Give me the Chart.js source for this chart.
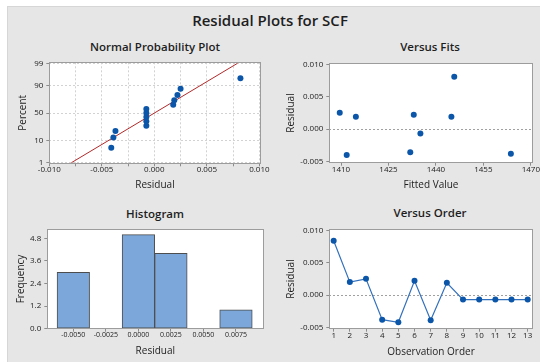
<!DOCTYPE html>
<html>
<head>
<meta charset="utf-8">
<title>Residual Plots for SCF</title>
<script src="https://cdn.jsdelivr.net/npm/chart.js@4.4.0/dist/chart.umd.min.js"></script>
<style>
  body { margin: 0; background: #fff; font-family: 'Open Sans', sans-serif; }
  #page { position: relative; width: 540px; height: 362px; overflow: hidden; }
  #panel { position: absolute; left: 7px; top: 6px; right: 0; bottom: 0; background: #e6e6e6; border-top: 1px solid #d6d6d6; border-left: 1px solid #d6d6d6; }
  .title { position: absolute; text-align: center; color: #1e1e1e; font-weight: 600; white-space: nowrap; }
  canvas { position: absolute; }
</style>
</head>
<body>
<div id="page">
  <div id="panel"></div>
  <div class="title" style="left:0;width:540px;top:11px;font-size:15px;line-height:18px">Residual Plots for SCF</div>
  <div class="title" style="left:55px;width:200px;top:39px;font-size:11.5px;line-height:16px">Normal Probability Plot</div>
  <div class="title" style="left:330px;width:200px;top:39px;font-size:11.5px;line-height:16px">Versus Fits</div>
  <div class="title" style="left:55px;width:200px;top:206px;font-size:11.5px;line-height:16px">Histogram</div>
  <div class="title" style="left:330px;width:200px;top:205px;font-size:11.5px;line-height:16px">Versus Order</div>
  <canvas id="npp" width="270" height="144" style="left:0;top:56px"></canvas>
  <canvas id="fits" width="270" height="144" style="left:270px;top:56px"></canvas>
  <canvas id="hist" width="270" height="140" style="left:0;top:222px"></canvas>
  <canvas id="order" width="270" height="140" style="left:270px;top:222px"></canvas>
</div>
<script>
// 1. DATA

// normal probability plot: sorted residuals and their plotting percents
const npResid = [-0.0041, -0.0039, -0.0037, -0.00076, -0.00076, -0.00076, -0.00076, -0.00076, 0.0018, 0.0019, 0.0022, 0.0025, 0.0082];
const npPct = [5.2, 12.7, 20.1, 27.6, 35.1, 42.5, 50, 57.5, 64.9, 72.4, 79.9, 87.3, 94.8];
const npPctTicks = [1, 10, 50, 90, 99];
const npXTicks = [-0.01, -0.0075, -0.005, -0.0025, 0, 0.0025, 0.005, 0.0075, 0.01];
const npFitMean = 0.00001;
const npFitSd = 0.0034;
const npFitPct = [1, 99];

// versus fits
const fitsX = [1409.6, 1411.8, 1414.7, 1431.9, 1433.0, 1435.1, 1444.9, 1445.8, 1463.7];
const fitsResid = [0.0025, -0.0040, 0.0019, -0.0036, 0.0022, -0.0007, 0.0019, 0.0081, -0.0038];
const fitsXTicks = [1410, 1425, 1440, 1455, 1470];
const residTicks = [-0.005, 0, 0.005, 0.01];

// histogram
const histBins = [-0.005, 0, 0.0025, 0.0075];
const histCounts = [3, 5, 4, 1];
const histXTicks = [-0.005, -0.0025, 0, 0.0025, 0.005, 0.0075];
const histYTicks = [0, 1.2, 2.4, 3.6, 4.8];

// versus order
const orderObs = [1, 2, 3, 4, 5, 6, 7, 8, 9, 10, 11, 12, 13];
const orderResid = [0.0084, 0.0020, 0.0025, -0.0038, -0.0042, 0.0022, -0.0039, 0.0019, -0.0007, -0.0007, -0.0007, -0.0007, -0.0007];

// 2. STYLE
const POINT = '#0b56a9';
const TICK_TXT = '#222';
const TICK_MARK = '#8c8c8c';
const BOX = '#9c9c9c';

Chart.defaults.font.family = "'Open Sans', sans-serif";
Chart.defaults.color = TICK_TXT;
Chart.defaults.animation = false;

// inverse standard normal (Acklam) - used for the probability axis
function probit(p) {
    const a = [-39.69683028665376, 220.9460984245205, -275.9285104469687, 138.3577518672690, -30.66479806614716, 2.506628277459239];
    const b = [-54.47609879822406, 161.5858368580409, -155.6989798598866, 66.80131188771972, -13.28068155288572];
    const c = [-0.007784894002430293, -0.3223964580411365, -2.400758277161838, -2.549732539343734, 4.374664141464968, 2.938163982698783];
    const d = [0.007784695709041462, 0.3224671290700398, 2.445134137142996, 3.754408661907416];
    const pl = 0.02425;
    let q, r;
    if (p < pl) {
        q = Math.sqrt(-2 * Math.log(p));
        return (((((c[0]*q+c[1])*q+c[2])*q+c[3])*q+c[4])*q+c[5]) / ((((d[0]*q+d[1])*q+d[2])*q+d[3])*q+1);
    }
    if (p > 1 - pl) {
        q = Math.sqrt(-2 * Math.log(1 - p));
        return -(((((c[0]*q+c[1])*q+c[2])*q+c[3])*q+c[4])*q+c[5]) / ((((d[0]*q+d[1])*q+d[2])*q+d[3])*q+1);
    }
    q = p - 0.5; r = q * q;
    return (((((a[0]*r+a[1])*r+a[2])*r+a[3])*r+a[4])*r+a[5])*q / (((((b[0]*r+b[1])*r+b[2])*r+b[3])*r+b[4])*r+1);
}

// white plot area + full grey frame, like the Minitab panels
const plotBox = {
    id: 'plotBox',
    beforeDraw(chart) {
        const a = chart.chartArea, ctx = chart.ctx;
        ctx.save();
        ctx.fillStyle = '#fff';
        ctx.fillRect(a.left, a.top, a.right - a.left, a.bottom - a.top);
        ctx.restore();
    },
    afterDraw(chart) {
        const a = chart.chartArea, ctx = chart.ctx;
        ctx.save();
        ctx.strokeStyle = BOX;
        ctx.lineWidth = 1;
        ctx.strokeRect(Math.round(a.left) + 0.5, Math.round(a.top) + 0.5, Math.round(a.right - a.left), Math.round(a.bottom - a.top));
        ctx.restore();
    }
};

// fix axis thickness so every plot box lands where the reference has it
function fixSize(size) {
    return function (scale) {
        if (scale.isHorizontal()) scale.height = size; else scale.width = size;
        scale.paddingLeft = scale.paddingRight = scale.paddingTop = scale.paddingBottom = 0;
    };
}

function setTicks(values) {
    return function (scale) { scale.ticks = values.map(v => ({ value: v })); };
}

function axisTitle(text, pad) {
    return { display: true, text: text, color: '#1e1e1e', font: { size: 10 }, padding: { top: pad, bottom: pad } };
}

function baseScale(extra) {
    return Object.assign({
        type: 'linear',
        border: { display: false },
        grid: { drawOnChartArea: false, tickLength: 3, tickColor: TICK_MARK },
        ticks: { font: { size: 8 }, padding: 2, autoSkip: false, maxRotation: 0, callback: v => String(v) }
    }, extra);
}

// x axes sit a little tighter under the box than the default
function xTicks(size, callback) {
    return { font: { size: size }, padding: -1, autoSkip: false, maxRotation: 0, callback: callback || (v => String(v)) };
}

// dotted reference line at residual = 0, no other grid
function zeroLineScale(extra) {
    const s = baseScale(extra);
    s.grid = {
        drawOnChartArea: true, tickLength: 3, tickColor: TICK_MARK,
        color: ctx => (ctx.tick && ctx.tick.value === 0 ? '#a0a0a0' : 'rgba(0,0,0,0)')
    };
    s.border = { display: false, dash: [2, 2] };
    return s;
}

const commonOptions = (pad) => ({
    responsive: false,
    layout: { padding: pad },
    plugins: { legend: { display: false }, tooltip: { enabled: false } }
});

/**
 * 3. NORMAL PROBABILITY PLOT
 */
function renderNormal() {
    const pts = npResid.map((r, i) => ({ x: r, y: probit(npPct[i] / 100) }));
    const fit = npFitPct.map(p => ({ x: npFitMean + npFitSd * probit(p / 100), y: probit(p / 100) }));
    const gridDotted = { drawOnChartArea: true, color: '#d2d2d2', tickLength: 3, tickColor: TICK_MARK };

    new Chart(document.getElementById('npp'), {
        type: 'scatter',
        data: {
            datasets: [
                { data: pts, backgroundColor: POINT, borderWidth: 0, pointRadius: 3 },
                { type: 'line', data: fit, borderColor: '#b02a2a', borderWidth: 1, pointRadius: 0, fill: false }
            ]
        },
        options: Object.assign(commonOptions({ top: 6.3, right: 9.3, left: 0, bottom: 0 }), {
            scales: {
                x: baseScale({
                    min: -0.0100, max: 0.01013,
                    grid: gridDotted,
                    border: { display: false, dash: [2, 2] },
                    afterBuildTicks: setTicks(npXTicks),
                    afterFit: fixSize(36.7),
                    ticks: xTicks(8, v => (Math.abs(Math.round(v * 1000) - v * 1000) < 1e-6 && Math.round(v * 1000) % 5 === 0 ? v.toFixed(3) : '')),
                    title: axisTitle('Residual', 9)
                }),
                y: baseScale({
                    min: -2.353, max: 2.373,
                    grid: gridDotted,
                    border: { display: false, dash: [2, 2] },
                    afterBuildTicks: setTicks(npPctTicks.map(p => probit(p / 100))),
                    afterFit: fixSize(49.3),
                    ticks: { font: { size: 8 }, padding: 3, autoSkip: false,
                        callback: (v, i) => String(npPctTicks[i]) },
                    title: axisTitle('Percent', 17.3)
                })
            }
        }),
        plugins: [plotBox]
    });
}

/**
 * 4. VERSUS FITS
 */
function renderFits() {
    new Chart(document.getElementById('fits'), {
        type: 'scatter',
        data: {
            datasets: [{
                data: fitsX.map((x, i) => ({ x: x, y: fitsResid[i] })),
                backgroundColor: POINT, borderWidth: 0, pointRadius: 3
            }]
        },
        options: Object.assign(commonOptions({ top: 7.3, right: 7.3, left: 0, bottom: 0 }), {
            scales: {
                x: baseScale({
                    min: 1406.3, max: 1470.6,
                    afterBuildTicks: setTicks(fitsXTicks),
                    afterFit: fixSize(37.3),
                    ticks: xTicks(8),
                    title: axisTitle('Fitted Value', 8.7)
                }),
                y: zeroLineScale({
                    min: -0.0052, max: 0.01016,
                    afterBuildTicks: setTicks(residTicks),
                    afterFit: fixSize(59.3),
                    ticks: { font: { size: 8 }, padding: 3, autoSkip: false, callback: v => v.toFixed(3) },
                    title: axisTitle('Residual', 14.7)
                })
            }
        }),
        plugins: [plotBox]
    });
}

/**
 * 5. HISTOGRAM
 */
function renderHistogram() {
    new Chart(document.getElementById('hist'), {
        type: 'bar',
        data: {
            datasets: [{
                data: histBins.map((b, i) => ({ x: b, y: histCounts[i] })),
                backgroundColor: '#7ba7da',
                borderColor: '#4d4d4d',
                borderWidth: 1,
                borderSkipped: false,
                barPercentage: 1,
                categoryPercentage: 1
            }]
        },
        options: Object.assign(commonOptions({ top: 7.3, right: 6.7, left: 0, bottom: 0 }), {
            scales: {
                x: baseScale({
                    min: -0.0070, max: 0.0096,
                    offset: false,
                    grid: { drawOnChartArea: false, offset: false, tickLength: 3, tickColor: TICK_MARK },
                    afterBuildTicks: setTicks(histXTicks),
                    afterFit: fixSize(33.3),
                    ticks: xTicks(7, v => v.toFixed(4)),
                    title: axisTitle('Residual', 5.3)
                }),
                y: baseScale({
                    min: 0, max: 5.28,
                    afterBuildTicks: setTicks(histYTicks),
                    afterFit: fixSize(47.3),
                    ticks: { font: { size: 8 }, padding: 3, autoSkip: false, callback: v => v.toFixed(1) },
                    title: axisTitle('Frequency', 15)
                })
            }
        }),
        plugins: [plotBox]
    });
}

/**
 * 6. VERSUS ORDER
 */
function renderOrder() {
    new Chart(document.getElementById('order'), {
        type: 'line',
        data: {
            datasets: [{
                data: orderObs.map((o, i) => ({ x: o, y: orderResid[i] })),
                borderColor: '#3270bd',
                borderWidth: 1.2,
                backgroundColor: POINT,
                pointBackgroundColor: POINT,
                pointBorderWidth: 0,
                pointRadius: 3,
                tension: 0,
                fill: false
            }]
        },
        options: Object.assign(commonOptions({ top: 7.3, right: 7.3, left: 0, bottom: 0 }), {
            scales: {
                x: baseScale({
                    min: 0.73, max: 13.31,
                    afterBuildTicks: setTicks(orderObs),
                    afterFit: fixSize(33.3),
                    ticks: xTicks(8),
                    title: axisTitle('Observation Order', 4.3)
                }),
                y: zeroLineScale({
                    min: -0.0052, max: 0.01016,
                    afterBuildTicks: setTicks(residTicks),
                    afterFit: fixSize(59.3),
                    ticks: { font: { size: 8 }, padding: 3, autoSkip: false, callback: v => v.toFixed(3) },
                    title: axisTitle('Residual', 14.7)
                })
            }
        }),
        plugins: [plotBox]
    });
}

renderNormal();
renderFits();
renderHistogram();
renderOrder();
</script>
</body>
</html>
